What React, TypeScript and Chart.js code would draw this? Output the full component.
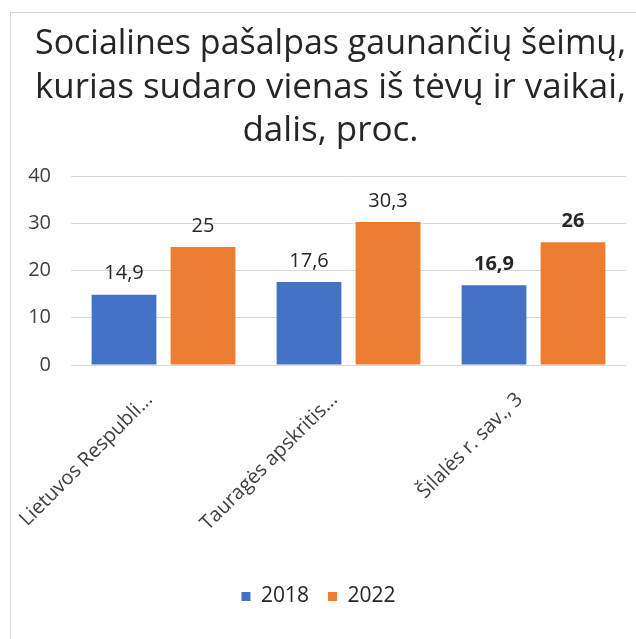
import React, { useEffect, useRef } from "react";
import { Chart, registerables } from "chart.js";

Chart.register(...registerables);

const categories = ["Lietuvos Respubli...", "Tauragės apskritis...", "Šilalės r. sav., 3"];
const seriesNames = ["2018", "2022"];
const values2018 = [14.9, 17.6, 16.9];
const values2022 = [25, 30.3, 26];
const labelBold = [false, false, true];
const yTicks = [0, 10, 20, 30, 40];
const titleLines = [
  "Socialines pašalpas gaunančių šeimų,",
  "kurias sudaro vienas iš tėvų ir vaikai,",
  "dalis, proc.",
];

const FONT = "'Open Sans', 'Noto Sans', sans-serif";

const valueLabels = {
  id: "valueLabels",
  afterDatasetsDraw(chart: any) {
    const ctx = chart.ctx;
    ctx.save();
    ctx.textAlign = "center";
    ctx.textBaseline = "middle";
    ctx.fillStyle = "#262626";
    chart.data.datasets.forEach((ds: any, di: number) => {
      const meta = chart.getDatasetMeta(di);
      meta.data.forEach((el: any, i: number) => {
        const v = ds.data[i];
        ctx.font = `${labelBold[i] ? "bold " : ""}20px ${FONT}`;
        ctx.fillText(String(v).replace(".", ","), el.x, el.y - 21);
      });
    });
    ctx.restore();
  },
};

const shiftTitle = {
  id: "shiftTitle",
  afterLayout(chart: any) {
    const t = chart.titleBlock;
    if (t) {
      t.left += 24;
      t.width = t.right - t.left;
    }
  },
};

export default function App() {
  const ref = useRef<HTMLCanvasElement>(null);
  useEffect(() => {
    if (!ref.current) return;
    const chart = new Chart(ref.current, {
      type: "bar",
      data: {
        labels: categories,
        datasets: [
          {
            label: seriesNames[0],
            data: values2018,
            backgroundColor: "#4472c4",
            barPercentage: 0.82,
            categoryPercentage: 0.854,
          },
          {
            label: seriesNames[1],
            data: values2022,
            backgroundColor: "#ed7d31",
            barPercentage: 0.82,
            categoryPercentage: 0.854,
          },
        ],
      },
      options: {
        responsive: false,
        animation: false,
        layout: { padding: { left: 0, right: 12, top: 0, bottom: 22 } },
        plugins: {
          title: {
            display: true,
            text: titleLines,
            color: "#262626",
            font: { family: FONT, size: 35, weight: "normal" as any, lineHeight: 1.23 },
            padding: { top: 10, bottom: 24 },
          },
          legend: {
            position: "bottom",
            labels: {
              boxWidth: 9,
              boxHeight: 9,
              color: "#262626",
              font: { family: FONT, size: 21 },
              padding: 19,
            },
          },
          tooltip: { enabled: false },
        },
        scales: {
          x: {
            grid: { display: false },
            border: { display: false },
            afterFit: (axis: any) => {
              axis.height = 202;
            },
            ticks: {
              color: "#404040",
              font: { family: FONT, size: 20 },
              maxRotation: 45,
              minRotation: 45,
              padding: 15,
              labelOffset: -14,
            },
          },
          y: {
            min: 0,
            max: 40,
            afterBuildTicks: (axis: any) => {
              axis.ticks = yTicks.map((v) => ({ value: v }));
            },
            afterFit: (axis: any) => {
              axis.width = 60;
            },
            grid: { color: "#d9d9d9", drawTicks: false },
            border: { display: false },
            ticks: {
              color: "#404040",
              font: { family: FONT, size: 20 },
              padding: 20,
            },
          },
        },
      },
      plugins: [valueLabels, shiftTitle],
    });
    return () => chart.destroy();
  }, []);
  return (
    <div
      style={{
        position: "fixed",
        left: 10,
        top: 12,
        width: 700,
        height: 700,
        borderTop: "1px solid #d6d6d6",
        borderLeft: "1px solid #d6d6d6",
        background: "#fff",
      }}
    >
      <canvas ref={ref} width={627} height={626} style={{ display: "block" }} />
    </div>
  );
}
